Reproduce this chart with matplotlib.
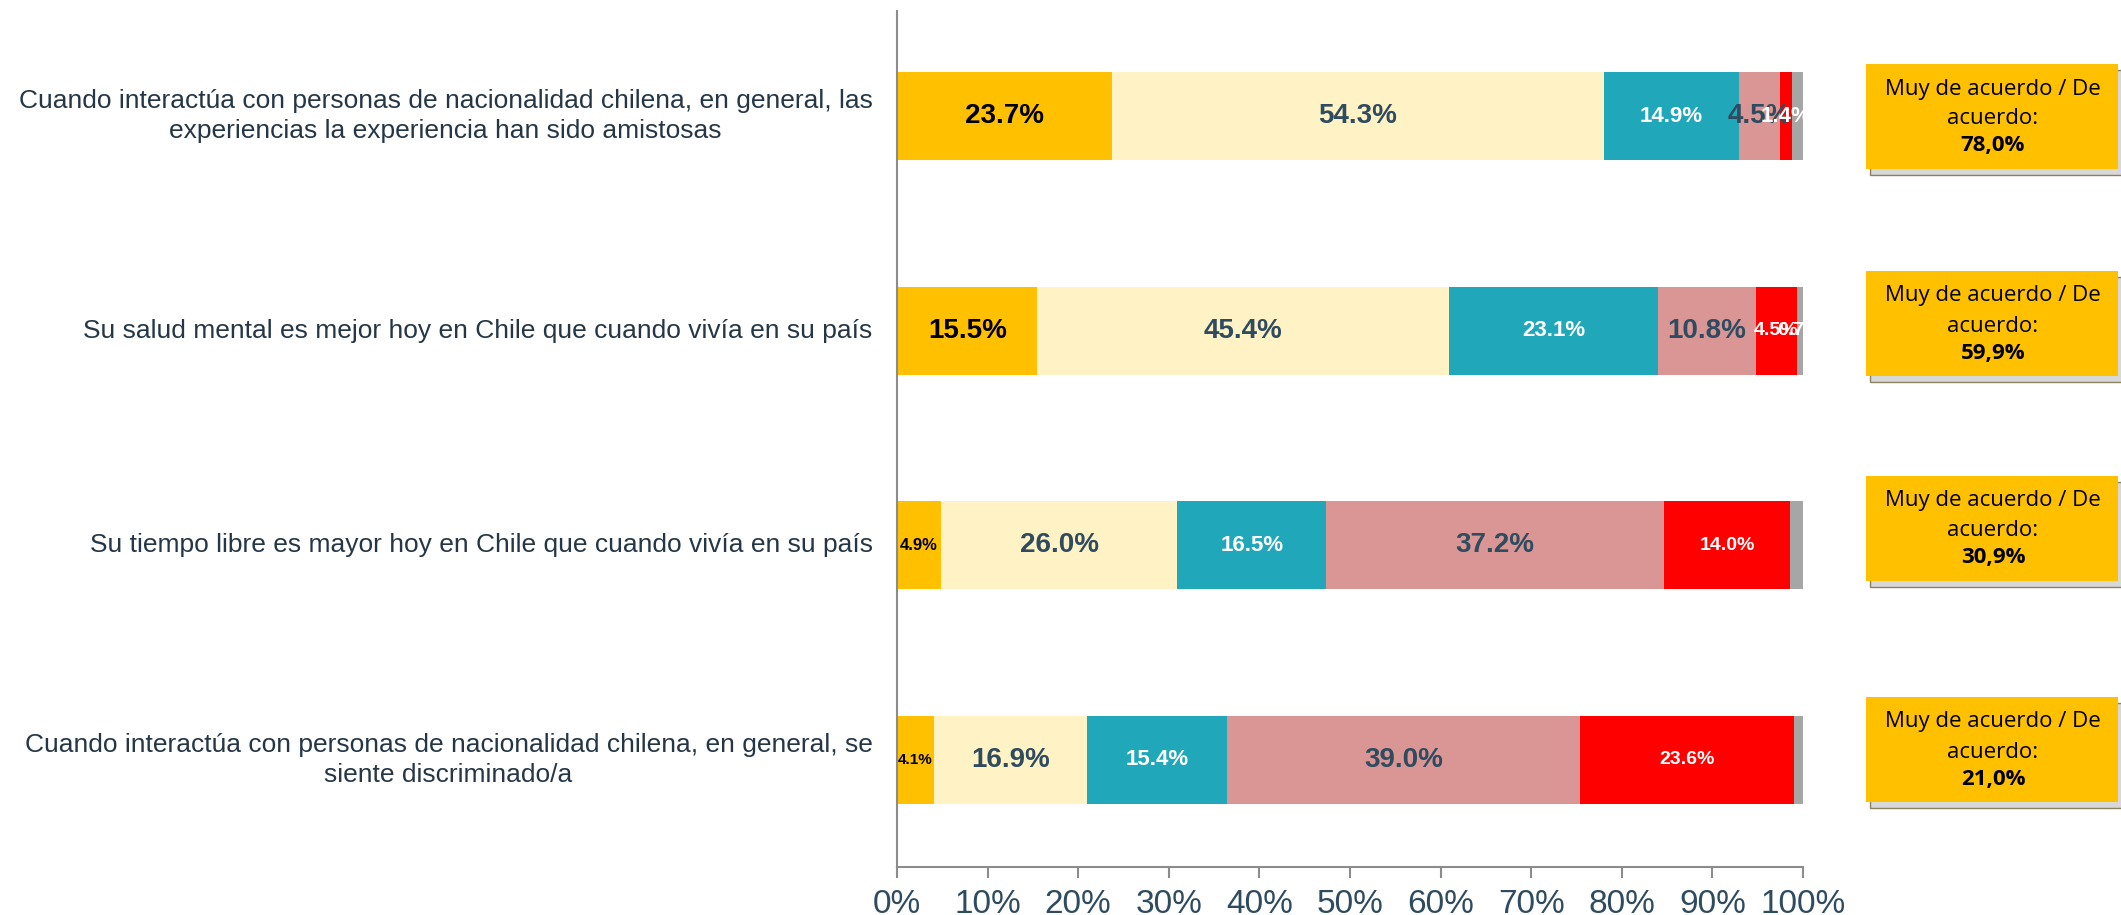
import numpy as np
import matplotlib.pyplot as plt
from matplotlib.patches import Rectangle, Shadow
from matplotlib.ticker import PercentFormatter

plt.rcParams['font.family'] = ['Liberation Sans', 'DejaVu Sans']

categories = [
    "Cuando interactúa con personas de nacionalidad chilena, en general, las\nexperiencias la experiencia han sido amistosas",
    "Su salud mental es mejor hoy en Chile que cuando vivía en su país",
    "Su tiempo libre es mayor hoy en Chile que cuando vivía en su país",
    "Cuando interactúa con personas de nacionalidad chilena, en general, se\nsiente discriminado/a",
]
muy_de_acuerdo = [23.7, 15.5, 4.9, 4.1]
de_acuerdo = [54.3, 45.4, 26.0, 16.9]
ni_ni = [14.9, 23.1, 16.5, 15.4]
en_desacuerdo = [4.5, 10.8, 37.2, 39.0]
muy_en_desacuerdo = [1.4, 4.5, 14.0, 23.6]
no_sabe = [1.2, 0.7, 1.4, 1.0]
box_totals = ["78,0%", "59,9%", "30,9%", "21,0%"]

series = [muy_de_acuerdo, de_acuerdo, ni_ni, en_desacuerdo, muy_en_desacuerdo, no_sabe]
colors = ["#FFC000", "#FFF2C5", "#21A7BA", "#D99694", "#FF0000", "#A6A6A6"]
dark = "#2E4B5F"
txt_colors = ["black", dark, "white", dark, "white", "white"]
# font size per segment, per row (None = no label)
sizes = [
    [20, 20, 12, 11],
    [20, 20, 20, 20],
    [16, 16, 16, 16],
    [20, 20, 20, 20],
    [16, 14, 14, 14],
    [None, 14, None, None],
]

fig = plt.figure(figsize=(21.21, 9.15), dpi=100)
ax = fig.add_axes([0.4229, 0.0525, 0.4272, 0.9355])

y = np.arange(len(categories))
left = np.zeros(len(categories))
for k, vals in enumerate(series):
    vals = np.array(vals)
    ax.barh(y, vals, left=left, height=0.41, color=colors[k], edgecolor='none')
    for i, v in enumerate(vals):
        fs = sizes[k][i]
        if fs is None:
            continue
        ax.text(left[i] + v / 2, y[i], f"{v:.1f}%", ha='center', va='center',
                fontsize=fs, fontweight='bold', color=txt_colors[k])
    left += vals

ax.set_xlim(0, 100)
ax.set_ylim(3.50, -0.49)
ax.set_yticks([])
ax.set_xticks(np.arange(0, 101, 10))
ax.xaxis.set_major_formatter(PercentFormatter(decimals=0))
ax.tick_params(axis='x', length=8, width=1.5, color='#8C8C8C', labelsize=24,
               labelcolor=dark, pad=8)
for s in ['top', 'right']:
    ax.spines[s].set_visible(False)
ax.spines['left'].set_color('#8C8C8C')
ax.spines['bottom'].set_color('#8C8C8C')
ax.spines['left'].set_linewidth(1.5)
ax.spines['bottom'].set_linewidth(1.5)

for i, cat in enumerate(categories):
    ax.text(-0.027, y[i], cat, transform=ax.get_yaxis_transform(), ha='right', va='center',
            multialignment='center', fontsize=19, color='#253746', linespacing=1.3)

# summary boxes on the right
box_tops = [64, 271, 476, 697]
W, H = 2121, 915
for top, tot in zip(box_tops, box_totals):
    x0, x1 = 1866 / W, 2118 / W
    y1 = 1 - top / H
    y0 = 1 - (top + 105) / H
    rect = Rectangle((x0, y0), x1 - x0, y1 - y0, transform=fig.transFigure,
                     facecolor="#FFC000", edgecolor='none', zorder=3)
    fig.add_artist(Shadow(rect, 3 / W, -4 / H, facecolor='#BFBFBF', alpha=0.6, zorder=2))
    fig.add_artist(rect)
    cx = 1993 / W
    fig.text(cx, 1 - (top + 25) / H, "Muy de acuerdo / De", ha='center', va='center',
             fontsize=16, family='Open Sans', color='black', zorder=4)
    fig.text(cx, 1 - (top + 55) / H, "acuerdo:", ha='center', va='center',
             fontsize=16, family='Open Sans', color='black', zorder=4)
    fig.text(cx, 1 - (top + 82) / H, tot, ha='center', va='center',
             fontsize=16, family='Open Sans', fontweight='bold', color='black', zorder=4)

fig.savefig("out.png", dpi=100)
